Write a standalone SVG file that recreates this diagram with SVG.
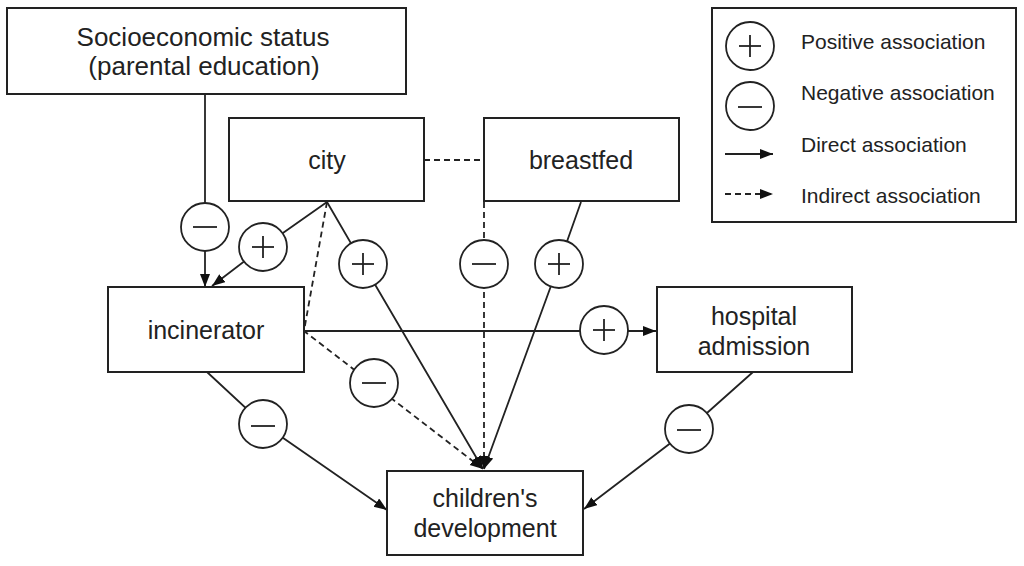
<svg xmlns="http://www.w3.org/2000/svg" width="1024" height="566" viewBox="0 0 1024 566">
<defs>
<marker id="ah" markerUnits="userSpaceOnUse" markerWidth="14" markerHeight="12" refX="13" refY="5" orient="auto">
<path d="M0,0 L13,5 L0,10 z" fill="#111"/>
</marker>
<style>
.box{fill:#fff;stroke:#222;stroke-width:2}
.t{font-family:"Liberation Sans",Arial,sans-serif;font-size:25px;fill:#222;text-anchor:middle}
.big{font-size:26px}
.lt{font-family:"Liberation Sans",Arial,sans-serif;font-size:21px;fill:#222}
.ln{fill:none;stroke:#222;stroke-width:1.8}
.dl{fill:none;stroke:#222;stroke-width:1.8;stroke-dasharray:6 4}
.c{fill:#fff;stroke:#222;stroke-width:1.8}
.s{stroke:#222;stroke-width:1.8}
</style>
</defs>
<rect width="1024" height="566" fill="#fff"/>
<g id="connectors">
<line class="dl" x1="424" y1="160" x2="484" y2="160"/>
<path class="ln" d="M205,94 L205,287" marker-end="url(#ah)"/>
<path class="ln" d="M327,202 L263,247 L212,286" marker-end="url(#ah)"/>
<path class="dl" d="M327,202 L304,331 L483,469" marker-end="url(#ah)"/>
<path class="ln" d="M327,202 L363,264 L483,469" marker-end="url(#ah)"/>
<path class="dl" d="M484,202 L484,469" marker-end="url(#ah)"/>
<path class="ln" d="M581,202 L559,264 L484,469" marker-end="url(#ah)"/>
<path class="ln" d="M304,331 L656,331" marker-end="url(#ah)"/>
<path class="ln" d="M207,372 L263,424 L387,510" marker-end="url(#ah)"/>
<path class="ln" d="M753,372 L689,429 L584,509" marker-end="url(#ah)"/>
</g>
<g id="signs">
<g id="s1"><circle class="c" cx="205" cy="227" r="24"/><line class="s" x1="193" y1="227" x2="217" y2="227"/></g>
<g id="s2"><circle class="c" cx="263" cy="247" r="24"/><line class="s" x1="252" y1="247" x2="274" y2="247"/><line class="s" x1="263" y1="236" x2="263" y2="258"/></g>
<g id="s3"><circle class="c" cx="363" cy="264" r="24"/><line class="s" x1="352" y1="264" x2="374" y2="264"/><line class="s" x1="363" y1="253" x2="363" y2="275"/></g>
<g id="s4"><circle class="c" cx="484" cy="264" r="24"/><line class="s" x1="472" y1="264" x2="496" y2="264"/></g>
<g id="s5"><circle class="c" cx="559" cy="264" r="24"/><line class="s" x1="548" y1="264" x2="570" y2="264"/><line class="s" x1="559" y1="253" x2="559" y2="275"/></g>
<g id="s6"><circle class="c" cx="374" cy="383" r="24"/><line class="s" x1="362" y1="383" x2="386" y2="383"/></g>
<g id="s7"><circle class="c" cx="604" cy="330" r="24"/><line class="s" x1="593" y1="330" x2="615" y2="330"/><line class="s" x1="604" y1="319" x2="604" y2="341"/></g>
<g id="s8"><circle class="c" cx="263" cy="424" r="24"/><line class="s" x1="251" y1="426" x2="275" y2="426"/></g>
<g id="s9"><circle class="c" cx="689" cy="429" r="24"/><line class="s" x1="677" y1="430" x2="701" y2="430"/></g>
</g>
<g id="ses"><rect class="box" x="7" y="8" width="399" height="86"/><text class="t big" x="203" y="46">Socioeconomic status</text><text class="t big" x="204" y="75">(parental education)</text></g>
<g id="city"><rect class="box" x="229" y="118" width="195" height="83"/><text class="t" x="327" y="169">city</text></g>
<g id="breastfed"><rect class="box" x="484" y="118" width="195" height="83"/><text class="t" x="581" y="169">breastfed</text></g>
<g id="incinerator"><rect class="box" x="108" y="287" width="196" height="85"/><text class="t" x="206" y="339">incinerator</text></g>
<g id="hospital"><rect class="box" x="657" y="287" width="195" height="85"/><text class="t" x="754" y="325">hospital</text><text class="t" x="754" y="355">admission</text></g>
<g id="children"><rect class="box" x="387" y="471" width="196" height="84"/><text class="t" x="485" y="507">children's</text><text class="t" x="485" y="537">development</text></g>
<g id="legend">
<rect class="box" x="712" y="8" width="304" height="214"/>
<circle class="c" cx="750" cy="46" r="24"/><line class="s" x1="739" y1="46" x2="761" y2="46"/><line class="s" x1="750" y1="35" x2="750" y2="57"/>
<circle class="c" cx="750" cy="106" r="24"/><line class="s" x1="738" y1="107" x2="762" y2="107"/>
<line class="ln" x1="725" y1="154" x2="773" y2="154" marker-end="url(#ah)"/>
<line class="dl" x1="725" y1="194" x2="773" y2="194" marker-end="url(#ah)"/>
<text class="lt" x="801" y="49">Positive association</text>
<text class="lt" x="801" y="100">Negative association</text>
<text class="lt" x="801" y="152">Direct association</text>
<text class="lt" x="801" y="203">Indirect association</text>
</g>
</svg>
